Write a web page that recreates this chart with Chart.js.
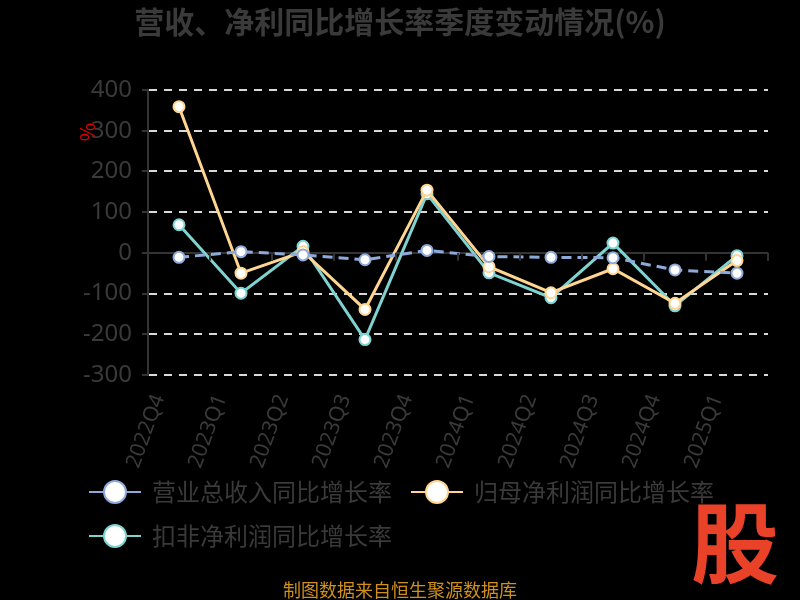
<!DOCTYPE html>
<html>
<head>
<meta charset="utf-8">
<script src="https://cdn.jsdelivr.net/npm/chart.js@4"></script>
<style>
  html, body { margin: 0; padding: 0; background: #000; }
  #wrap { width: 800px; height: 600px; }
</style>
</head>
<body>
<div id="wrap"><canvas id="growthChart" width="800" height="600"></canvas></div>
<script>
const quarters = ['2022Q4', '2023Q1', '2023Q2', '2023Q3', '2023Q4', '2024Q1', '2024Q2', '2024Q3', '2024Q4', '2025Q1'];
const revenueGrowth = [-11, 3, -5, -17, 6, -9, -11, -12, -42, -50];
const netProfitGrowth = [359, -50, 3, -139, 154, -34, -98, -39, -124, -19];
const deductedProfitGrowth = [69, -99, 16, -213, 145, -49, -110, 24, -130, -7];
const yTicks = [400, 300, 200, 100, 0, -100, -200, -300];

const seriesNames = ['营业总收入同比增长率', '归母净利润同比增长率', '扣非净利润同比增长率'];
const seriesColors = ['#8eaadb', '#ffd591', '#7ed3d1'];
const chartTitle = '营收、净利同比增长率季度变动情况(%)';

const textGray = '#3a3a3a';

// legend symbol: short line with a hollow circle in the middle
function legendIcon(color) {
    const c = document.createElement('canvas');
    c.width = 52;
    c.height = 26;
    const g = c.getContext('2d');
    g.strokeStyle = color;
    g.lineWidth = 2;
    g.beginPath();
    g.moveTo(0, 13);
    g.lineTo(52, 13);
    g.stroke();
    g.beginPath();
    g.arc(26, 13, 11, 0, Math.PI * 2);
    g.fillStyle = '#fff';
    g.fill();
    g.stroke();
    return c;
}
const legendIcons = seriesColors.map(legendIcon);

const extras = {
    id: 'extras',
    afterDraw(chart) {
        const ctx = chart.ctx;
        const area = chart.chartArea;
        const y = chart.scales.y;
        const zeroY = y.getPixelForValue(0);
        ctx.save();
        // tick marks on the zero line between categories
        ctx.strokeStyle = '#333';
        ctx.lineWidth = 2;
        const step = (area.right - area.left) / quarters.length;
        for (let i = 1; i <= quarters.length; i++) {
            const px = Math.round(area.left + i * step);
            ctx.beginPath();
            ctx.moveTo(px, zeroY);
            ctx.lineTo(px, zeroY + 8);
            ctx.stroke();
        }
        // unit label
        ctx.fillStyle = '#e00000';
        ctx.font = '20px "Noto Sans CJK SC", sans-serif';
        ctx.textAlign = 'center';
        ctx.textBaseline = 'middle';
        ctx.translate(87, 132);
        ctx.rotate(-Math.PI / 2);
        ctx.fillText('%', 0, 0);
        ctx.restore();

        ctx.save();
        ctx.textAlign = 'center';
        ctx.textBaseline = 'middle';
        ctx.fillStyle = textGray;
        ctx.font = 'bold 30px "Noto Sans CJK SC", sans-serif';
        ctx.fillText(chartTitle, 400, 22);
        ctx.fillStyle = '#d0901c';
        ctx.font = '18px "Noto Sans CJK SC", sans-serif';
        ctx.fillText('制图数据来自恒生聚源数据库', 400, 590);
        ctx.fillStyle = '#ea4229';
        ctx.font = 'bold 88px "Noto Sans CJK SC", sans-serif';
        ctx.fillText('股', 735, 543);
        ctx.restore();
    }
};

function makeDataset(i, values, dashed) {
    return {
        label: seriesNames[i],
        data: values,
        borderColor: seriesColors[i],
        backgroundColor: '#fff',
        pointBackgroundColor: '#fff',
        pointBorderColor: seriesColors[i],
        pointBorderWidth: 2,
        pointRadius: 5.5,
        borderWidth: 3,
        borderDash: dashed ? [10, 6] : [],
        tension: 0,
        fill: false
    };
}

const ctx = document.getElementById('growthChart').getContext('2d');
const chart = new Chart(ctx, {
    type: 'line',
    data: {
        labels: quarters,
        datasets: [
            makeDataset(0, revenueGrowth, true),
            makeDataset(1, netProfitGrowth, false),
            makeDataset(2, deductedProfitGrowth, false)
        ]
    },
    options: {
        responsive: false,
        animation: false,
        layout: {
            padding: { left: 70, right: 32, top: 90, bottom: 42 }
        },
        scales: {
            x: {
                offset: true,
                grid: { display: false },
                border: { display: false },
                afterFit(scale) {
                    scale.height = 85;
                    // let the rotated labels run below the shortened axis box
                    scale._computeLabelArea = () => undefined;
                },
                ticks: {
                    color: textGray,
                    font: { size: 21, family: '"Noto Sans", "Open Sans", sans-serif' },
                    minRotation: 70,
                    maxRotation: 70,
                    labelOffset: -20,
                    padding: 8
                }
            },
            y: {
                min: -300,
                max: 400,
                afterBuildTicks(scale) {
                    scale.ticks = yTicks.map(v => ({ value: v }));
                },
                afterFit(scale) {
                    scale.width = 78;
                },
                border: { display: true, color: '#333', width: 2, dash: ctx => ctx.tick && ctx.tick.value === 0 ? [] : [8, 7] },
                grid: {
                    color: ctx => ctx.tick && ctx.tick.value === 0 ? '#333' : '#d9d9d9',
                    lineWidth: 2,
                    tickColor: '#333',
                    tickLength: 6,
                    tickBorderDash: []
                },
                ticks: {
                    color: textGray,
                    font: { size: 24, family: '"Noto Sans", "Open Sans", sans-serif' },
                    padding: 10
                }
            }
        },
        plugins: {
            title: { display: false },
            legend: {
                position: 'bottom',
                align: 'start',
                labels: {
                    color: textGray,
                    font: { size: 24, family: '"Noto Sans CJK SC", sans-serif' },
                    usePointStyle: true,
                    pointStyleWidth: 50,
                    boxHeight: 24,
                    padding: 20,
                    generateLabels(chart) {
                        const items = Chart.defaults.plugins.legend.labels.generateLabels(chart);
                        items.forEach((item, i) => { item.pointStyle = legendIcons[i]; });
                        return items;
                    }
                }
            },
            tooltip: { enabled: false }
        }
    },
    plugins: [extras]
});
</script>
</body>
</html>
